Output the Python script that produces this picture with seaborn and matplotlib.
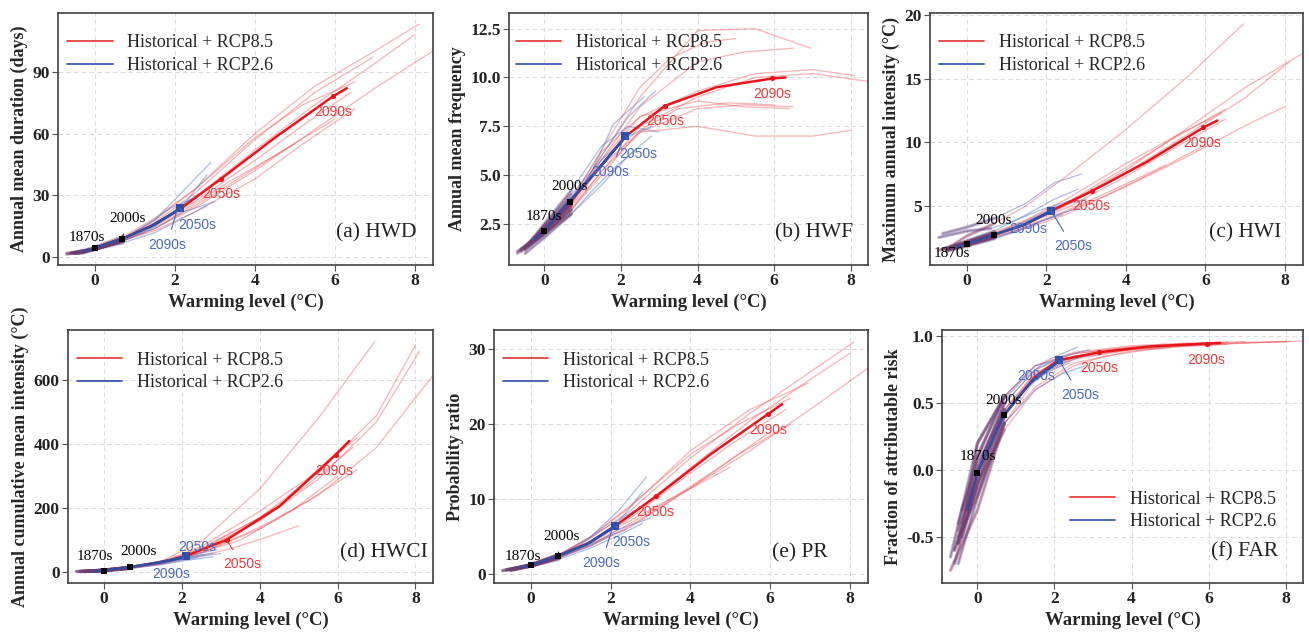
import numpy as np
import pandas as pd
import matplotlib
matplotlib.use("Agg")
import matplotlib.pyplot as plt
import seaborn as sns
from matplotlib.lines import Line2D

# ---------------- data ----------------
# warming level anchors (°C) for the RCP8.5 ensemble members (shared by all panels)
X85 = [
    [-0.6, 0, 0.7, 1.5, 2.5, 4.0, 5.5, 7.0, 8.1],
    [-0.5, 0, 0.7, 1.5, 2.5, 4.0, 5.5, 7.0, 8.45],
    [-0.7, 0, 0.7, 1.5, 2.5, 4.0, 5.5, 7.0, 8.0],
    [-0.4, 0, 0.7, 1.5, 2.5, 4.0, 5.5, 6.95],
    [-0.5, 0, 0.7, 1.5, 2.5, 4.0, 5.2, 6.5],
    [-0.6, 0, 0.7, 1.5, 2.5, 4.0, 5.2, 6.5],
    [-0.3, 0, 0.7, 1.5, 2.5, 4.0, 5.2, 6.4],
    [-0.5, 0, 0.7, 1.5, 2.5, 3.5, 4.8, 6.0],
    [-0.4, 0, 0.7, 1.5, 2.5, 3.3, 4.2, 5.0],
]
# warming level anchors for the RCP2.6 ensemble members
X26 = [
    [-0.6, 0, 0.7, 1.5, 2.2, 2.9],
    [-0.5, 0, 0.7, 1.5, 2.2, 2.8],
    [-0.5, 0, 0.7, 1.5, 2.2, 2.8],
    [-0.4, 0, 0.7, 1.5, 2.2, 3.0],
    [-0.5, 0, 0.7, 1.3, 1.9, 2.4],
    [-0.7, 0, 0.6, 1.2, 1.8, 2.6],
]
# ensemble-mean warming levels
MX85 = [-0.25, 0, 0.68, 1.5, 2.1, 3.15, 4.5, 5.95, 6.3]
MX26 = [-0.25, 0, 0.68, 1.4, 2.05, 2.12]
# decade marker warming levels: 1870s, 2000s, 2050s(2.6), 2090s(2.6), 2050s(8.5), 2090s(8.5)
DEC_X = [0.0, 0.68, 2.12, 2.05, 3.15, 5.95]

# (a) HWD
HWD_R85 = [
    [2, 4, 9, 18, 33, 60, 83, 100, 113],
    [2, 4, 8, 14, 24, 42, 62, 82, 100],
    [2, 4, 8, 16, 29, 52, 74, 94, 108],
    [2, 4.5, 9, 17, 31, 57, 80, 97],
    [2, 5, 10, 19, 33, 58, 74, 85],
    [2, 4, 8, 13, 22, 38, 55, 72],
    [2, 4, 9, 16, 27, 47, 64, 80],
    [2, 4, 8, 14, 25, 37, 53, 67],
    [2, 4, 8, 15, 26, 36, 46, 55],
]
HWD_R26 = [
    [2, 4, 9, 18, 32, 46],
    [2, 4, 8, 15, 25, 40],
    [2, 4, 7, 12, 19, 25],
    [2, 4, 8, 14, 22, 27],
    [2, 4, 9, 16, 24, 28],
    [1.5, 4, 8, 13, 20, 31],
]
HWD_M85 = [3, 4.5, 9, 16, 23, 38, 58, 78, 82]
HWD_M26 = [3, 4.5, 9, 15, 22.5, 23.7]
HWD_DEC = [4.5, 9, 23.7, 22.5, 38, 78]

# (b) HWF
HWF_R85 = [
    [1.2, 2.2, 3.5, 5.8, 8.0, 9.3, 10.2, 10.4, 10.1],
    [1.3, 2.0, 3.2, 5.2, 7.5, 9.0, 10.0, 10.2, 9.8],
    [1.0, 2.1, 3.4, 5.5, 7.2, 7.5, 7.0, 7.0, 7.3],
    [1.5, 2.3, 3.6, 6.0, 9.0, 12.4, 12.5, 11.5],
    [1.3, 2.2, 3.5, 5.8, 8.5, 10.8, 11.3, 11.5],
    [1.2, 2.0, 3.3, 5.2, 7.2, 8.4, 8.6, 8.5],
    [1.6, 2.4, 3.8, 6.2, 8.0, 8.8, 8.5, 8.4],
    [1.2, 2.0, 3.2, 5.0, 7.3, 8.4, 8.7, 8.6],
    [1.4, 2.3, 3.7, 6.3, 9.5, 11.0, 11.8, 12.0],
]
HWF_R26 = [
    [1.1, 2.0, 3.5, 6.0, 8.0, 9.3],
    [1.3, 2.4, 4.0, 5.8, 7.0, 7.5],
    [1.0, 1.8, 3.0, 4.5, 6.0, 7.0],
    [1.5, 2.5, 4.2, 6.5, 7.5, 7.2],
    [1.2, 2.0, 3.0, 4.3, 5.5, 6.3],
    [1.1, 2.1, 3.6, 5.0, 7.6, 9.0],
]
HWF_M85 = [1.7, 2.15, 3.65, 5.5, 6.95, 8.55, 9.5, 9.95, 10.0]
HWF_M26 = [1.7, 2.15, 3.7, 5.3, 6.8, 7.0]
HWF_DEC = [2.15, 3.65, 7.0, 6.8, 8.55, 9.95]

# (c) HWI
HWI_R85 = [
    [1.6, 2.0, 2.7, 3.5, 5.0, 7.6, 10.5, 13.5, 16.3],
    [1.6, 2.0, 2.7, 3.6, 5.1, 7.8, 11.0, 14.3, 17.0],
    [1.5, 1.9, 2.5, 3.2, 4.3, 6.5, 8.8, 11.3, 12.8],
    [1.8, 2.6, 3.6, 5.0, 7.3, 11.0, 15.0, 19.3],
    [1.7, 2.1, 2.8, 3.8, 5.2, 8.0, 10.3, 12.6],
    [1.6, 2.0, 2.7, 3.6, 4.8, 7.3, 9.5, 11.8],
    [1.9, 2.2, 2.9, 3.9, 5.5, 8.3, 10.4, 12.3],
    [1.5, 1.9, 2.5, 3.3, 4.5, 5.8, 7.8, 9.8],
    [1.6, 2.0, 2.6, 3.4, 4.6, 5.7, 7.0, 8.2],
]
HWI_R26 = [
    [2.8, 3.3, 4.0, 5.2, 6.8, 7.5],
    [1.6, 2.2, 3.0, 4.3, 5.5, 6.3],
    [1.5, 1.9, 2.5, 3.3, 4.2, 4.8],
    [1.7, 2.1, 2.8, 3.8, 4.9, 5.5],
    [1.4, 1.8, 2.4, 3.0, 3.8, 4.3],
    [2.5, 3.0, 3.2, 3.8, 4.6, 5.4],
]
HWI_M85 = [1.75, 2.0, 2.7, 3.55, 4.55, 6.15, 8.4, 11.15, 11.7]
HWI_M26 = [1.75, 2.0, 2.7, 3.45, 4.45, 4.6]
HWI_DEC = [2.0, 2.7, 4.6, 4.45, 6.15, 11.15]

# (d) HWCI
HWCI_R85 = [
    [2, 6, 15, 30, 70, 160, 290, 470, 690],
    [2, 5, 13, 27, 60, 135, 240, 390, 615],
    [2, 6, 15, 32, 75, 170, 310, 490, 710],
    [3, 7, 16, 36, 95, 260, 480, 720],
    [2, 6, 15, 33, 80, 190, 290, 420],
    [2, 5, 12, 26, 60, 140, 220, 320],
    [2, 6, 14, 30, 72, 170, 270, 390],
    [2, 5, 13, 28, 62, 100, 190, 300],
    [2, 5, 12, 25, 50, 75, 110, 145],
]
HWCI_R26 = [
    [2, 6, 15, 32, 52, 70],
    [2, 6, 14, 29, 47, 60],
    [2, 5, 12, 24, 38, 48],
    [2, 6, 14, 28, 45, 58],
    [2, 5, 13, 24, 36, 45],
    [2, 5, 13, 25, 40, 55],
]
HWCI_M85 = [3, 5, 16, 32, 50, 101, 205, 367, 410]
HWCI_M26 = [3, 5, 16, 30, 46, 49]
HWCI_DEC = [5, 16, 49, 46, 101, 367]

# (e) PR
PR_R85 = [
    [0.6, 1.2, 2.5, 4.8, 8.5, 15.5, 21.5, 27, 31],
    [0.6, 1.1, 2.2, 3.8, 6.5, 11.5, 16.5, 22, 27.5],
    [0.5, 1.2, 2.4, 4.4, 7.8, 14.2, 20.5, 26, 29.5],
    [0.8, 1.3, 2.6, 5.0, 9.0, 16.5, 22.0, 25.5],
    [0.7, 1.3, 2.6, 5.0, 9.2, 16.0, 20.0, 23.5],
    [0.6, 1.1, 2.2, 3.8, 6.3, 11.5, 16.0, 20.0],
    [0.9, 1.2, 2.4, 4.3, 7.5, 13.5, 18.0, 22.0],
    [0.6, 1.1, 2.2, 4.0, 6.8, 10.0, 14.5, 19.0],
    [0.7, 1.2, 2.3, 4.2, 7.2, 9.5, 12.0, 14.3],
]
PR_R26 = [
    [0.6, 1.2, 2.5, 5.0, 8.5, 13.0],
    [0.6, 1.2, 2.4, 4.2, 7.0, 11.0],
    [0.5, 1.1, 2.0, 3.5, 5.2, 6.8],
    [0.7, 1.2, 2.3, 3.8, 6.0, 7.5],
    [0.6, 1.1, 2.2, 3.5, 5.0, 6.0],
    [0.5, 1.2, 2.4, 3.8, 6.0, 8.5],
]
PR_M85 = [0.9, 1.2, 2.45, 4.3, 6.4, 10.45, 16.0, 21.4, 22.7]
PR_M26 = [0.9, 1.2, 2.45, 4.0, 6.2, 6.45]
PR_DEC = [1.2, 2.45, 6.45, 6.2, 10.45, 21.4]

# (f) FAR
FAR_R85 = [
    [-0.7, -0.1, 0.45, 0.73, 0.85, 0.91, 0.94, 0.955, 0.96],
    [-0.5, -0.2, 0.40, 0.70, 0.84, 0.90, 0.935, 0.95, 0.965],
    [-0.75, -0.3, 0.35, 0.68, 0.83, 0.90, 0.93, 0.95, 0.96],
    [-0.4, 0.1, 0.55, 0.78, 0.88, 0.93, 0.95, 0.96],
    [-0.55, 0.0, 0.50, 0.75, 0.87, 0.92, 0.94, 0.955],
    [-0.6, -0.15, 0.35, 0.62, 0.80, 0.89, 0.92, 0.94],
    [-0.3, 0.2, 0.55, 0.78, 0.87, 0.92, 0.94, 0.95],
    [-0.45, -0.05, 0.45, 0.72, 0.85, 0.89, 0.92, 0.94],
    [-0.5, -0.1, 0.30, 0.60, 0.78, 0.85, 0.89, 0.92],
]
FAR_R26 = [
    [-0.6, 0.0, 0.50, 0.75, 0.85, 0.90],
    [-0.4, 0.1, 0.55, 0.78, 0.83, 0.86],
    [-0.7, -0.2, 0.35, 0.60, 0.72, 0.78],
    [-0.3, 0.05, 0.45, 0.70, 0.80, 0.87],
    [-0.55, -0.1, 0.40, 0.62, 0.75, 0.80],
    [-0.65, 0.2, 0.50, 0.68, 0.82, 0.92],
]
FAR_M85 = [-0.3, -0.02, 0.41, 0.70, 0.82, 0.88, 0.925, 0.945, 0.95]
FAR_M26 = [-0.3, -0.02, 0.41, 0.66, 0.80, 0.82]
FAR_DEC = [-0.02, 0.41, 0.82, 0.80, 0.88, 0.945]

DEC_NAMES = ["1870s", "2000s", "2050s", "2090s", "2050s", "2090s"]
LEGEND_LABELS = ["Historical + RCP8.5", "Historical + RCP2.6"]
XTICKS = [0, 2, 4, 6, 8]

# ---------------- style ----------------
sns.set_theme(style="ticks")
plt.rcParams["font.family"] = ["Liberation Serif", "DejaVu Serif"]
plt.rcParams["axes.unicode_minus"] = False

C_R_MEM = "#ec4a4f"
C_B_MEM = "#5c78c6"
C_HIST = "#6d3d70"
C_R_MEAN = "#e8141c"
C_B_MEAN = "#2f4fa4"
C_R_TXT = "#f0393c"
C_B_TXT = "#4a69c0"

W, H = 1309, 634
fig = plt.figure(figsize=(W / 100, H / 100), dpi=100)

# panel layout: axes rectangles in pixels (left, right, top, bottom)
panels = [
    dict(r85=HWD_R85, r26=HWD_R26, m85=HWD_M85, m26=HWD_M26, dec=HWD_DEC,
         box=(58, 433, 13, 265), ylim=(-3.7, 118.4), yticks=[0, 30, 60, 90], yfmt="{:.0f}",
         ylabel="Annual mean duration (days)", tag="(a) HWD", tagpos=(0.957, 0.127),
         legpos=(0.025, 0.915),
         lab=[(-0.2, 9.6, False), (0.82, 18.6, True), (2.55, 15.6, True), (1.8, 6.0, True),
              (3.15, 30.6, False), (5.95, 70.2, False)]),
    dict(r85=HWF_R85, r26=HWF_R26, m85=HWF_M85, m26=HWF_M26, dec=HWF_DEC,
         box=(509, 868, 13, 265), ylim=(0.4, 13.3), yticks=[2.5, 5.0, 7.5, 10.0, 12.5], yfmt="{:.1f}",
         ylabel="Annual mean frequency", tag="(b) HWF", tagpos=(0.958, 0.127),
         legpos=(0.02, 0.915),
         lab=[(0.0, 2.9, False), (0.67, 4.4, False), (2.46, 6.1, True), (1.73, 5.15, True),
              (3.15, 7.75, False), (5.95, 9.15, False)]),
    dict(r85=HWI_R85, r26=HWI_R26, m85=HWI_M85, m26=HWI_M26, dec=HWI_DEC,
         box=(930, 1303, 13, 265), ylim=(0.33, 20.16), yticks=[5, 10, 15, 20], yfmt="{:.0f}",
         ylabel="Maximum annual intensity (°C)", tag="(c) HWI", tagpos=(0.941, 0.127),
         legpos=(0.025, 0.915),
         lab=[(-0.38, 1.2, False), (0.67, 3.87, False), (2.67, 1.8, True), (1.55, 3.15, False),
              (3.13, 4.95, False), (5.93, 9.9, False)]),
    dict(r85=HWCI_R85, r26=HWCI_R26, m85=HWCI_M85, m26=HWCI_M26, dec=HWCI_DEC,
         box=(68, 433, 330, 583), ylim=(-34, 757), yticks=[0, 200, 400, 600], yfmt="{:.0f}",
         ylabel="Annual cumulative mean intensity (°C)", tag="(d) HWCI", tagpos=(0.985, 0.119),
         legpos=(0.025, 0.915),
         lab=[(-0.23, 49, False), (0.88, 65, True), (2.4, 80, False), (1.72, -6, True),
              (3.55, 24, True), (5.92, 316, False)]),
    dict(r85=PR_R85, r26=PR_R26, m85=PR_M85, m26=PR_M26, dec=PR_DEC,
         box=(494, 868, 330, 583), ylim=(-1.16, 32.6), yticks=[0, 10, 20, 30], yfmt="{:.0f}",
         ylabel="Probability ratio", tag="(e) PR", tagpos=(0.893, 0.119),
         legpos=(0.025, 0.915),
         lab=[(-0.19, 2.4, False), (0.77, 5.0, True), (2.52, 4.3, True), (1.77, 1.5, True),
              (3.12, 8.3, False), (5.95, 19.2, False)]),
    dict(r85=FAR_R85, r26=FAR_R26, m85=FAR_M85, m26=FAR_M26, dec=FAR_DEC,
         box=(942, 1303, 330, 583), ylim=(-0.845, 1.047), yticks=[-0.5, 0.0, 0.5, 1.0], yfmt="{:.1f}",
         ylabel="Fraction of attributable risk", tag="(f) FAR", tagpos=(0.931, 0.123),
         legpos=(0.355, 0.365),
         lab=[(0.0, 0.1, False), (0.67, 0.52, False), (2.66, 0.56, True), (1.53, 0.70, False),
              (3.16, 0.76, False), (5.93, 0.82, False)]),
]


def members_frame(xs, ys, prefix, upto=None):
    rows = []
    for i, (x, y) in enumerate(zip(xs, ys)):
        xx = x if upto is None else x[:upto]
        yy = y if upto is None else y[:upto]
        for a, b in zip(xx, yy):
            rows.append((f"{prefix}{i}", a, b))
    return pd.DataFrame(rows, columns=["member", "x", "y"])


for p in panels:
    l, r, t, b = p["box"]
    ax = fig.add_axes([l / W, 1 - b / H, (r - l) / W, (b - t) / H])

    # ensemble members
    d85 = members_frame(X85, p["r85"], "r")
    d26 = members_frame(X26, p["r26"], "b")
    sns.lineplot(data=d85, x="x", y="y", units="member", estimator=None, sort=False,
                 color=C_R_MEM, alpha=0.42, lw=0.9, ax=ax, legend=False)
    sns.lineplot(data=d26, x="x", y="y", units="member", estimator=None, sort=False,
                 color=C_B_MEM, alpha=0.5, lw=0.9, ax=ax, legend=False)
    # historical parts (overlap of both scenarios)
    h85 = members_frame(X85, p["r85"], "hr", upto=3)
    h26 = members_frame(X26, p["r26"], "hb", upto=3)
    hist = pd.concat([h85, h26])
    sns.lineplot(data=hist, x="x", y="y", units="member", estimator=None, sort=False,
                 color=C_HIST, alpha=0.4, lw=2.4, ax=ax, legend=False)

    # ensemble means
    sns.lineplot(x=MX85, y=p["m85"], sort=False, color=C_R_MEAN, lw=1.8, ax=ax)
    sns.lineplot(x=MX26[:5], y=p["m26"][:5], sort=False, color=C_B_MEAN, lw=1.8, ax=ax)
    sns.lineplot(x=MX26[3:], y=p["m26"][3:], sort=False, color=C_B_MEAN, lw=1.8, ax=ax)

    # decade markers
    dec = p["dec"]
    sns.scatterplot(x=DEC_X[:2], y=dec[:2], color="black", marker="s", s=18, linewidth=0, ax=ax, zorder=5)
    sns.scatterplot(x=[DEC_X[2]], y=[dec[2]], color=C_B_MEAN, marker="s", s=36, linewidth=0, ax=ax, zorder=5)
    sns.scatterplot(x=DEC_X[4:], y=dec[4:], color=C_R_MEAN, marker="o", s=14, linewidth=0, ax=ax, zorder=5)

    # decade labels
    colors = ["black", "black", C_B_TXT, C_B_TXT, C_R_TXT, C_R_TXT]
    fams = [["Liberation Serif"], ["Liberation Serif"], ["Liberation Sans"], ["Liberation Sans"],
            ["Liberation Sans"], ["Liberation Sans"]]
    sizes = [11, 11, 10, 10, 10, 10]
    for k, (tx, ty, leader) in enumerate(p["lab"]):
        if leader:
            ax.annotate(DEC_NAMES[k], xy=(DEC_X[k], dec[k]), xytext=(tx, ty),
                        ha="center", va="center", color=colors[k], family=fams[k], fontsize=sizes[k],
                        arrowprops=dict(arrowstyle="-", color=colors[k], lw=0.8, shrinkA=4, shrinkB=0),
                        zorder=6)
        else:
            ax.text(tx, ty, DEC_NAMES[k], ha="center", va="center", color=colors[k],
                    family=fams[k], fontsize=sizes[k], zorder=6)

    # axes styling
    ax.set_xlim(-0.92, 8.45)
    ax.set_ylim(*p["ylim"])
    ax.set_xticks(XTICKS)
    ax.set_xticklabels([str(v) for v in XTICKS])
    ax.set_yticks(p["yticks"])
    ax.set_yticklabels([p["yfmt"].format(v) for v in p["yticks"]])
    for lab in ax.get_xticklabels() + ax.get_yticklabels():
        lab.set_fontweight("bold")
        lab.set_fontsize(12.5)
        lab.set_color("#222222")
    ax.tick_params(axis="both", length=4, width=0.8, color="#555555", pad=2)
    ax.grid(True, ls=(0, (4, 3)), color="#dcdcdc", lw=0.8)
    ax.set_axisbelow(True)
    for s in ax.spines.values():
        s.set_visible(True)
        s.set_color("#404040")
        s.set_linewidth(1.2)
    ax.set_xlabel("Warming level (°C)", fontsize=13.5, fontweight="bold", labelpad=3)
    ax.set_ylabel(p["ylabel"], fontsize=13, fontweight="bold", labelpad=3)

    ax.text(p["tagpos"][0], p["tagpos"][1], p["tag"], transform=ax.transAxes,
            ha="right", va="center", fontsize=15.5, color="#222222")

    handles = [Line2D([], [], color="#e84040", lw=1.3),
               Line2D([], [], color="#3c5aab", lw=1.3)]
    ax.legend(handles, LEGEND_LABELS, loc="upper left", bbox_to_anchor=p["legpos"],
              frameon=False, fontsize=13, handlelength=2.5, handletextpad=0.8,
              labelspacing=0.3, borderpad=0, borderaxespad=0)

fig.savefig("out.png", dpi=100)
